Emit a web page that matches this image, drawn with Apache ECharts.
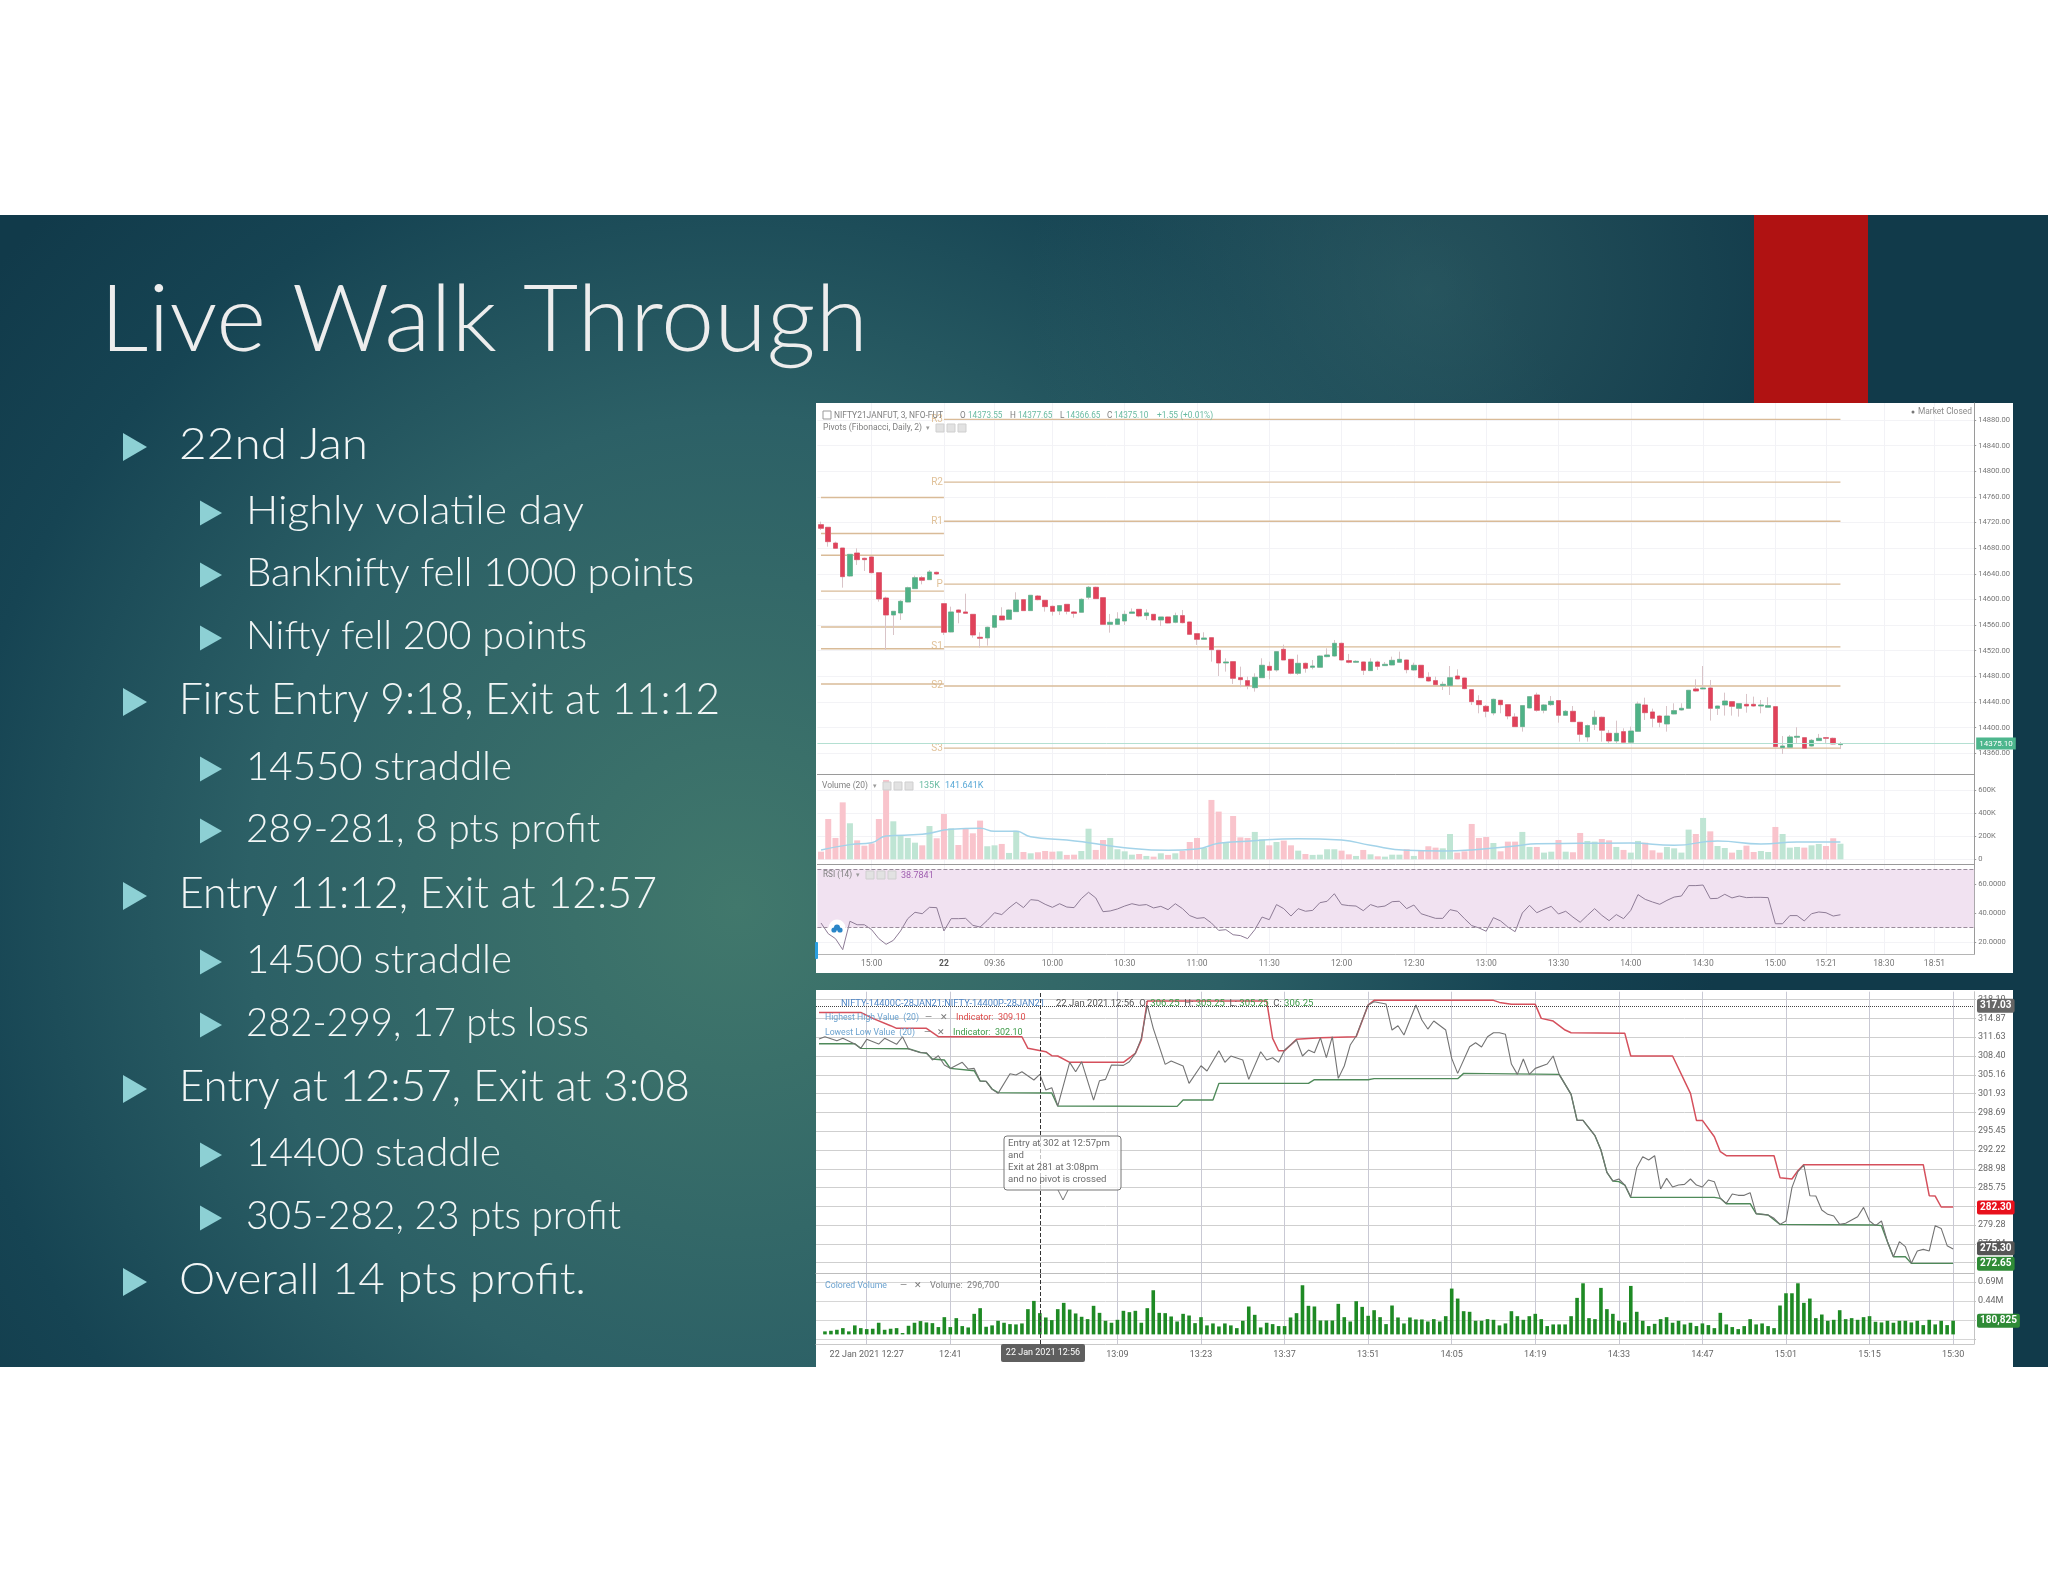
<!DOCTYPE html>
<html>
<head>
<meta charset="utf-8">
<title>Live Walk Through</title>
<style>html,body{margin:0;padding:0;background:#fff}#main{width:2048px;height:1582px}</style>
<script src="https://cdn.jsdelivr.net/npm/echarts@6/dist/echarts.min.js"></script>
</head>
<body>
<div id="main"></div>
<script>
// slide text
var slideTitle = "Live Walk Through";
var bulletText = ["22nd Jan", "Highly volatile day", "Banknifty fell 1000 points", "Nifty fell 200 points", "First Entry 9:18, Exit at 11:12", "14550 straddle", "289-281, 8 pts profit", "Entry 11:12, Exit at 12:57", "14500 straddle", "282-299, 17 pts loss", "Entry at 12:57, Exit at 3:08", "14400 staddle", "305-282, 23 pts profit", "Overall 14 pts profit."];
var bulletLevel = [1, 2, 2, 2, 1, 2, 2, 1, 2, 2, 1, 2, 2, 1];

// top screenshot: NIFTY 3 min candles
var candleO = [14716.7,14712.6,14688,14680.3,14636.6,14672.5,14664.2,14666.3,14641.8,14602.3,14575.8,14578.9,14596,14616.9,14634,14630.9,14642.4,14593.5,14549.3,14583.6,14580.5,14576.8,14541,14540,14556.6,14574.2,14569,14581,14599.7,14582.6,14605.4,14598.7,14589.3,14582,14592.4,14580.5,14580,14603.4,14619,14602.8,14561.2,14561.2,14566.4,14578.4,14584.6,14574.8,14576.8,14568,14572.7,14564.4,14574.8,14564.9,14546.7,14537.8,14540.4,14520.7,14500.9,14503,14478,14473.4,14462.4,14478,14495.7,14490,14522.2,14506.6,14484.8,14500.4,14494.2,14494.2,14510.8,14511.8,14531.6,14504.6,14502,14502.5,14489,14502.5,14496.8,14497.8,14502,14505.6,14490,14497.3,14478.6,14473.4,14465.6,14465.6,14480.6,14477.5,14459.3,14442.2,14433.3,14422.9,14442.7,14435.9,14416.7,14401.6,14430.7,14451,14427.1,14435.9,14442.2,14419.3,14425.5,14408.4,14385.5,14405.2,14416.2,14391.2,14379.2,14393.8,14377.2,14394.3,14435.4,14424.5,14418.2,14405.8,14421.4,14427.6,14430.2,14460.4,14460.4,14461.9,14430.2,14435.4,14440.6,14430.2,14436.4,14436.4,14433.8,14431.8,14432.8,14368.8,14369.4,14385,14384.4,14371.4,14379.8,14384.4,14383.4,14373.55];
var candleH = [14721.4,14712.6,14690.2,14680.3,14670.4,14679.8,14665.2,14667.3,14641.8,14604.4,14581.5,14599.2,14620,14637.2,14636.6,14646,14643.4,14593.5,14588.8,14584.6,14609,14576.8,14548.8,14557.6,14575.8,14587.8,14584.6,14611.2,14600.8,14606.5,14607,14599.2,14590.4,14591.4,14592.4,14582,14601.8,14621,14620,14602.8,14577.4,14580,14582.6,14586,14585,14584.6,14577.3,14572.7,14573.2,14579.4,14583.6,14565.4,14547.2,14548.8,14540.9,14521.2,14508.2,14503.5,14495.2,14479.6,14484.8,14508.2,14503,14519.6,14529.5,14507.1,14513.9,14501.4,14505.6,14512.8,14523.8,14536.8,14532.6,14515,14505,14503,14508.2,14504.6,14502.5,14510.8,14518.6,14506.1,14501.4,14497.8,14486.4,14479.6,14471.8,14496.2,14491,14478,14459.8,14450.5,14435.4,14445.2,14443.2,14436.4,14422.4,14434.9,14449.4,14454.6,14436.9,14449.4,14442.7,14427.6,14433.8,14408.9,14404.8,14426.6,14417.2,14396.4,14410.9,14399,14401.6,14440.6,14446.8,14429.7,14419.8,14433.8,14438,14438,14458.8,14475.4,14496.2,14474.4,14434.3,14454.6,14441.1,14438,14452.6,14448.4,14443.2,14447.4,14433.8,14387,14388.6,14400.6,14384.9,14382.3,14390.2,14384.9,14384.4,14377.65];
var candleL = [14708.4,14682.4,14678.8,14618.4,14635.6,14653.8,14644.4,14640.8,14596.6,14521.2,14544.6,14568,14595.6,14616.4,14623.6,14630.4,14638.2,14544.6,14548.8,14562.8,14578.4,14540.4,14524.8,14528,14555,14568,14568,14580.5,14582,14582,14598.7,14581,14574.8,14575.8,14576.8,14571.6,14579.5,14600.2,14601.3,14561.2,14548.2,14560.2,14560.2,14578.4,14572.2,14568,14567,14558.6,14562.8,14562.8,14562.8,14544.6,14529,14537.8,14503,14480.6,14487.4,14468.2,14463,14459.8,14456.2,14477.5,14475.4,14487.4,14505.6,14483.2,14482.2,14485.8,14491,14493.7,14509.8,14510.8,14504.6,14500.4,14501,14482.2,14488.5,14490,14496.3,14497.3,14501.5,14484.8,14489,14477.5,14471.8,14466.6,14458.8,14451,14475.5,14459.9,14435.4,14422.4,14416.2,14419.3,14422.4,14413,14401.1,14393.8,14430.2,14425,14422.4,14433.8,14407.8,14418.3,14408.9,14378.2,14378.2,14396.4,14378.2,14375.6,14375.6,14376.7,14375.6,14393.8,14412,14400.6,14400.6,14393.8,14420.9,14426.6,14429.7,14456.2,14459.9,14411,14419.8,14418.8,14418.8,14417.2,14423.4,14432.8,14422.4,14431.3,14369.9,14359,14368.9,14375.6,14367.3,14370.4,14379.3,14375.6,14374.1,14366.65];
var candleC = [14711,14690.2,14679.8,14635.6,14670.4,14662.1,14662.1,14641.8,14600.8,14575.8,14581.5,14597.1,14618.4,14634,14629.9,14642.9,14639.8,14548.8,14580.5,14580,14578.4,14544.6,14539.4,14556.6,14574.8,14568,14583.6,14599.2,14582.6,14606.5,14599.7,14588.8,14581.5,14590.4,14581.5,14578.4,14600.2,14619,14601.3,14561.2,14564.4,14569.6,14576.8,14580.5,14574.2,14579,14568,14572.7,14563.3,14574.8,14563.8,14545.6,14537.8,14539.9,14521.7,14500.9,14502.5,14477,14474.9,14465.6,14478.6,14497.3,14489.5,14518.6,14505.6,14484.8,14500.4,14492.6,14496.2,14511.8,14513.4,14531.6,14505.6,14502,14503.5,14489.5,14502.5,14495.7,14498.8,14505,14506.6,14490.5,14497.3,14478,14472.8,14467.1,14467.6,14478,14476,14460.9,14440.6,14435.9,14425.5,14444.2,14435.9,14418.2,14401.6,14434.4,14448.4,14427.1,14435.4,14441.1,14419.3,14425.5,14409.4,14389.6,14403.2,14416.2,14396,14379.2,14391.2,14377.2,14394.8,14437,14423.4,14414.6,14408.4,14418.2,14426.6,14430.2,14458.3,14457.2,14461.9,14430.2,14433.8,14441.6,14433.3,14437.5,14433.8,14433.8,14435.4,14434.4,14370.4,14371.4,14385.5,14386.5,14367.8,14380.3,14383.4,14383.4,14374.6,14375.1];
// volume in thousands
var volume = [66,349,185,493,312,164,118,138,349,687,329,202,185,144,121,288,182,392,268,124,268,225,335,113,121,133,55,248,63,52,61,72,66,69,38,40,72,265,81,167,185,87,69,40,46,29,23,52,38,52,72,150,185,98,514,413,144,375,190,185,237,173,121,150,162,121,75,46,38,40,87,87,75,43,29,81,43,26,23,40,40,87,29,72,113,101,95,219,58,69,306,185,193,141,69,153,153,237,107,107,58,66,167,66,61,228,159,153,176,164,107,81,58,159,144,78,58,107,95,58,257,219,358,242,115,98,58,81,118,63,72,63,280,219,101,107,101,121,133,115,182,135];
var volMaIdx = [0,4,7,9,14,18,22,24,27,29,34,37,42,48,52,55,59,66,72,76,81,86,90,96,99,105,112,118,124,130,135,141];
var volMaVal = [81,127,144,202,216,260,268,242,242,196,167,144,101,78,89,138,156,179,167,121,78,72,81,115,135,138,141,121,159,133,150,150];
var rsi = [33.1,25.7,22.3,14.7,34.3,31.9,31.9,28.5,22.3,18.4,21.1,27.6,36.1,40.5,39.5,43.9,43.7,27.6,36.1,36.1,36.3,31.5,30.3,34.9,40.2,38.9,43.5,47.4,43.7,49.2,48.7,46,43.9,46.4,44.1,43.7,49.9,54.3,50.4,40.9,41.4,42.8,44.8,46.4,45.3,45.8,43.5,44.6,42.3,46.4,43,38.2,36.3,36.8,33.1,28,28.5,25,24.4,22.3,28.5,37.2,35.4,45.8,43,37.9,43,41.2,41.8,47.1,48.1,53.3,45.8,45.1,44.8,41.6,45.8,44.1,44.8,47.8,48.1,43,45.5,39.5,37.9,36.3,36.3,42.3,41.2,36.1,31.3,29.7,27.4,36.8,34.5,30.3,27.1,40,45.3,40.2,42.5,44.6,39.3,41.2,37.2,33.6,38.4,43,38.4,34.7,38.9,36.1,41.8,52.7,49.4,47.6,46,48.7,51,51.7,58.9,58.9,59.3,49.9,50.1,52.9,50.4,51.7,50.6,50.8,50.8,50.6,32.6,32.6,38.2,38.2,34.5,39.5,40.7,40.2,37.9,38.8];
var pivotNames = ["R3", "R2", "R1", "P", "S1", "S2", "S3"];
var pivotLevels = [14881, 14783, 14722, 14624, 14526, 14465, 14368];
var prevPivotLevels = [14759, 14703, 14669, 14613, 14557, 14523, 14468];
var candleCount = 160;
var topTickIdx = [7, 17, 24, 32, 42, 52, 62, 72, 82, 92, 102, 112, 122, 132, 139, 147, 154];
var topTickLab = ["15:00", "22", "09:36", "10:00", "10:30", "11:00", "11:30", "12:00", "12:30", "13:00", "13:30", "14:00", "14:30", "15:00", "15:21", "18:30", "18:51"];
var priceTicks = [14880, 14840, 14800, 14760, 14720, 14680, 14640, 14600, 14560, 14520, 14480, 14440, 14400, 14360];
var volTicks = [600, 400, 200, 0];
var rsiTicks = [60, 40, 20];

// bottom screenshot: 14400 straddle 1 min
var closeIdx = [0,1,3,4,6,7,8,10,11,13,14,15,17,18,19,20,21,22,24,25,26,27,28,29,30,32,33,34,36,37,38,39,40,42,43,44,46,47,48,49,51,52,53,54,55,56,58,59,61,62,64,65,67,68,69,71,72,74,75,76,77,78,80,81,82,83,84,85,86,87,88,89,90,92,93,95,96,97,98,100,101,102,103,105,106,107,109,110,111,112,113,114,115,116,117,118,119,120,122,123,124,126,127,128,130,131,132,133,134,135,136,137,138,139,140,141,142,143,144,145,146,147,148,149,150,151,152,153,154,155,156,157,158,159,160,161,162,163,164,165,166,167,168,169,170,171,172,174,175,176,177,178,179,180,181,182,183,184,185,186,187,188,189,190];
var closeVal = [311.31,311.71,311.03,311.43,310.45,309.71,311.26,310.45,311.43,310.40,311.71,309.59,308.96,308.96,307.70,308.44,306.84,306.26,307.30,306.15,306.26,304.08,304.03,302.65,301.96,305.35,305.12,305.69,304.26,305.23,302.54,302.94,299.78,307.30,305.69,307.41,300.81,304.14,304.37,306.84,306.78,307.41,308.85,311.43,317.16,313.15,306.95,307.53,306.67,303.68,306.72,305.81,309.30,307.30,308.39,307.70,304.37,309.13,307.70,308.10,307.30,309.42,311.14,308.39,309.42,308.96,311.54,308.10,311.71,304.54,306.67,310.28,311.83,317.16,317.74,317.34,312.86,313.61,312.00,317.16,314.58,313.03,314.41,312.86,307.99,305.40,309.99,310.68,309.93,311.71,312.40,312.40,312.12,307.01,305.23,307.87,305.23,306.26,307.01,308.39,305.23,301.79,297.31,297.31,294.68,292.21,288.36,286.87,287.22,286.18,284.12,289.17,291.06,290.49,291.23,285.50,287.33,285.84,286.18,286.30,287.22,286.18,285.84,287.05,286.76,283.89,283.03,284.64,284.41,284.41,284.87,281.25,281.14,281.02,280.45,279.41,279.99,285.73,288.48,289.63,284.35,284.29,281.88,281.14,280.85,279.41,279.59,280.73,282.34,279.99,279.19,279.99,276.43,273.85,276.43,275.57,272.70,274.83,275.11,274.83,279.19,278.72,275.74,275.17];
var highIdx = [0,7,9,12,13,18,20,34,35,38,39,40,42,51,53,54,55,75,76,77,78,80,84,90,92,93,113,114,116,120,121,123,125,126,135,136,143,146,147,148,150,151,152,160,161,163,164,165,185,186,187,188,190];
var highVal = [315.90,315.90,314.87,313.61,313.15,313.15,311.71,311.71,309.71,309.13,308.44,308.39,307.30,307.30,308.85,311.14,317.85,317.85,311.43,309.30,309.30,311.26,311.54,311.71,317.16,317.97,317.97,317.62,317.28,317.28,314.87,314.41,312.86,312.40,312.29,308.39,308.39,301.96,297.31,297.31,294.50,291.92,291.23,291.23,287.45,287.22,288.65,289.69,289.69,284.35,284.29,282.40,282.40];
var lowIdx = [0,6,7,15,17,18,19,21,22,26,27,28,29,30,39,40,60,61,66,67,82,83,92,93,107,108,124,126,127,128,130,131,132,133,134,135,136,150,151,152,156,157,159,161,177,178,179,180,182,183,190];
var lowVal = [310.51,310.51,309.71,309.65,309.02,308.85,307.87,307.70,306.26,305.86,304.08,304.03,302.71,302.08,302.02,299.78,299.72,300.81,300.81,303.68,303.68,304.31,304.31,304.49,304.49,305.40,305.23,301.79,297.31,297.31,294.68,292.21,288.36,286.87,286.76,286.18,284.06,284.06,283.89,282.97,282.97,281.25,281.02,279.41,279.30,279.19,276.43,273.85,273.85,272.70,272.70];
// colored volume in thousands, index 0 has no bar
var coloredVolume = [null,40,48,61,83,40,119,83,70,75,154,61,75,83,18,114,154,176,158,149,97,228,97,215,110,92,272,347,101,119,180,154,136,132,145,334,443,281,224,189,334,417,329,277,233,202,378,285,180,154,193,312,294,312,154,347,584,285,281,237,171,272,250,149,228,119,145,105,145,119,83,180,369,259,92,154,136,110,110,224,281,650,378,369,184,184,184,404,228,171,439,364,246,320,228,136,382,224,145,224,198,198,171,202,171,241,606,474,307,299,180,180,202,193,119,145,307,241,193,241,272,202,110,132,132,132,241,483,676,215,202,615,334,272,180,158,641,299,180,110,140,202,228,154,180,132,154,110,145,123,83,285,132,97,70,110,202,132,145,110,83,382,544,544,676,417,474,215,263,180,193,320,202,215,193,228,241,167,158,180,154,180,180,158,180,123,193,132,180,123,181];
var straddleCount = 194;
var bottomTickIdx = [8, 22, 50, 64, 78, 92, 106, 120, 134, 148, 162, 176, 190];
var bottomTickLab = ["22 Jan 2021 12:27", "12:41", "13:09", "13:23", "13:37", "13:51", "14:05", "14:19", "14:33", "14:47", "15:01", "15:15", "15:30"];
var crossIdx = 37;
var straddleTicks = [318.10, 314.87, 311.63, 308.40, 305.16, 301.93, 298.69, 295.45, 292.22, 288.98, 285.75, 282.52, 279.28, 276.04, 272.81];
var cVolLabelTicks = [690, 440];
var cVolGridTicks = [690, 440, 190, -60];

var chart = echarts.init(document.getElementById("main"), null, { renderer: "canvas" });
var UI = "Roboto, sans-serif";
var SLIDE = "Lato, sans-serif";

function blankCats(n, idx, lab) {
	var c = [], k;
	for (k = 0; k < n; k++) c.push("");
	for (k = 0; k < idx.length; k++) c[idx[k]] = lab[k];
	return c;
}
function pairs(idx, val) {
	return idx.map(function (x, k) { return [x, val[k]]; });
}
function xAxisFor(grid, cats, ticks, labels, lineColor, gridColor, margin, size, labelColor) {
	var at = function (k) { return ticks.indexOf(k) >= 0; };
	return {
		type: "category", gridIndex: grid, data: cats, boundaryGap: true,
		axisLine: { show: true, onZero: false, lineStyle: { color: lineColor, width: 1 } },
		axisTick: { show: false, interval: at, alignWithLabel: true },
		splitLine: { show: true, interval: at, alignWithLabel: true, lineStyle: { color: gridColor, width: 1 } },
		axisLabel: {
			show: labels, interval: at, margin: margin, fontSize: size, fontFamily: UI, color: labelColor,
			hideOverlap: false,
			formatter: function (v) { return v === "22" ? "{b|22}" : v; },
			rich: { b: { fontWeight: "bold", fontSize: size, color: "#555" } }
		}
	};
}
function yAxisFor(grid, min, max, gridTicks, labelTicks, fmt, lineColor, gridColor, size, labelColor) {
	return {
		type: "value", gridIndex: grid, position: "right", min: min, max: max, scale: true,
		axisLine: { show: true, lineStyle: { color: lineColor, width: 1 } },
		axisTick: { show: true, length: 2, customValues: gridTicks, lineStyle: { color: lineColor } },
		splitLine: { show: true, lineStyle: { color: gridColor, width: 1 } },
		axisLabel: { show: true, customValues: labelTicks, margin: 4, fontSize: size, fontFamily: UI, color: labelColor, formatter: fmt }
	};
}
function tag(v, text, bg) {
	return {
		yAxis: v,
		lineStyle: { color: "transparent", width: 0 },
		label: {
			show: true, position: "end", distance: 3, formatter: text, color: "#fff", backgroundColor: bg,
			padding: [2, 3], borderRadius: 2, fontSize: 10, fontWeight: "bold", fontFamily: UI
		}
	};
}

// pivots: one line per level, previous day then today
var series = [];
pivotLevels.forEach(function (v) {
	series.push({
		type: "line", xAxisIndex: 0, yAxisIndex: 0, showSymbol: false, silent: true,
		lineStyle: { color: "#d9bb98", width: 1.4 },
		data: [[17, v], [141, v]], z: 1
	});
});
prevPivotLevels.forEach(function (v) {
	series.push({
		type: "line", xAxisIndex: 0, yAxisIndex: 0, showSymbol: false, silent: true,
		lineStyle: { color: "#d9bb98", width: 1.4 },
		data: [[0, v], [17, v]], z: 1
	});
});
series.push({
	type: "scatter", xAxisIndex: 0, yAxisIndex: 0, symbolSize: 0, silent: true,
	data: pivotLevels.map(function (v, k) { return { value: [17, v], name: pivotNames[k] }; }),
	label: { show: true, position: "left", distance: 1, formatter: "{b}", color: "#d8b27e", fontSize: 10, fontFamily: UI },
	z: 3
});

// wicks first, bodies on top
series.push({
	type: "candlestick", xAxisIndex: 0, yAxisIndex: 0, barWidth: 5, silent: true,
	itemStyle: { color: "#d9c4c8", color0: "#d9c4c8", borderColor: "#d9c4c8", borderColor0: "#d9c4c8", borderWidth: 1 },
	data: candleO.map(function (o, k) { return [o, candleC[k], candleL[k], candleH[k]]; }),
	markLine: {
		silent: true, symbol: "none", animation: false,
		lineStyle: { color: "#b4e0d2", width: 1, type: "solid" },
		data: [{
			yAxis: 14375.1,
			label: { show: true, position: "end", distance: 2, formatter: "14375.10", color: "#fff", backgroundColor: "#4db68d", padding: [2, 3], fontSize: 8, fontFamily: UI }
		}]
	},
	z: 2
});
series.push({
	type: "candlestick", xAxisIndex: 0, yAxisIndex: 0, barWidth: 5, silent: true,
	itemStyle: { color: "#4fb287", color0: "#e0425a", borderColor: "#4fb287", borderColor0: "#e0425a", borderWidth: 0.5 },
	data: candleO.map(function (o, k) { return [o, candleC[k], Math.min(o, candleC[k]), Math.max(o, candleC[k])]; }),
	z: 3
});
series.push({
	type: "bar", xAxisIndex: 1, yAxisIndex: 1, barWidth: 6, silent: true,
	data: volume.map(function (v, k) {
		return { value: v, itemStyle: { color: candleC[k] >= candleO[k] ? "#bfe5d4" : "#f9c4cc" } };
	})
});
series.push({
	type: "line", xAxisIndex: 1, yAxisIndex: 1, showSymbol: false, silent: true, smooth: true,
	lineStyle: { color: "#a3d3e9", width: 1.5 }, data: pairs(volMaIdx, volMaVal), z: 3
});
series.push({
	type: "line", xAxisIndex: 2, yAxisIndex: 2, showSymbol: false, silent: true,
	lineStyle: { color: "#8e7c96", width: 1 }, data: rsi,
	markArea: { silent: true, itemStyle: { color: "#f1e2f1" }, data: [[{ yAxis: 30 }, { yAxis: 70 }]] },
	markLine: {
		silent: true, symbol: "none", animation: false, label: { show: false },
		lineStyle: { color: "#9a8c9c", type: "dashed", width: 1 },
		data: [{ yAxis: 70 }, { yAxis: 30 }]
	}
});

// bottom chart lines
series.push({
	type: "line", xAxisIndex: 3, yAxisIndex: 3, showSymbol: false, silent: true,
	lineStyle: { color: "#4f8a5a", width: 1.4 }, data: pairs(lowIdx, lowVal), z: 3,
	markLine: { silent: true, symbol: "none", animation: false, data: [tag(272.65, "272.65", "#2f8b36")] }
});
series.push({
	type: "line", xAxisIndex: 3, yAxisIndex: 3, showSymbol: false, silent: true,
	lineStyle: { color: "#d5505c", width: 1.5 }, data: pairs(highIdx, highVal), z: 3,
	markLine: { silent: true, symbol: "none", animation: false, data: [tag(282.3, "282.30", "#e8101c")] }
});
series.push({
	type: "line", xAxisIndex: 3, yAxisIndex: 3, showSymbol: false, silent: true,
	lineStyle: { color: "#737373", width: 1.1 }, data: pairs(closeIdx, closeVal), z: 4,
	markLine: {
		silent: true, symbol: "none", animation: false,
		data: [
			tag(275.3, "275.30", "#555"),
			{
				yAxis: 317.03,
				lineStyle: { color: "#444", type: "dotted", width: 1 },
				label: { show: true, position: "end", distance: 3, formatter: "317.03", color: "#fff", backgroundColor: "#666", padding: [2, 3], borderRadius: 2, fontSize: 10, fontWeight: "bold", fontFamily: UI }
			},
			{
				xAxis: crossIdx,
				lineStyle: { color: "#333", type: "dashed", width: 1 },
				label: { show: false }
			}
		]
	}
});
series.push({
	type: "bar", xAxisIndex: 4, yAxisIndex: 4, barWidth: 3.6, silent: true,
	itemStyle: { color: "#1e8a24" }, data: coloredVolume,
	markLine: {
		silent: true, symbol: "none", animation: false,
		data: [
			tag(181, "180,825", "#2f8b36"),
			{ xAxis: crossIdx, lineStyle: { color: "#333", type: "dashed", width: 1 }, label: { show: false } }
		]
	}
});

// slide furniture
var bg = [];
bg.push({
	type: "rect", z: -10, shape: { x: 0, y: 215, width: 2048, height: 1152 },
	style: {
		fill: {
			type: "radial", x: 0.36, y: 0.6, r: 0.85,
			colorStops: [{ offset: 0, color: "#41786c" }, { offset: 0.5, color: "#2c6066" }, { offset: 0.8, color: "#164453" }, { offset: 1, color: "#113a4a" }]
		}
	}
});
bg.push({
	type: "rect", z: -9.5, shape: { x: 900, y: 215, width: 1148, height: 500 },
	style: {
		fill: {
			type: "radial", x: 0.46, y: 0.15, r: 0.8,
			colorStops: [{ offset: 0, color: "rgba(70,120,120,0.4)" }, { offset: 1, color: "rgba(70,120,120,0)" }]
		}
	}
});
bg.push({ type: "rect", z: -9, shape: { x: 1754, y: 215, width: 114, height: 188 }, style: { fill: "#b01212" } });
bg.push({ type: "rect", z: -8, shape: { x: 816, y: 403, width: 1197, height: 570 }, style: { fill: "#ffffff" } });
bg.push({ type: "rect", z: -8, shape: { x: 816, y: 990, width: 1197, height: 377 }, style: { fill: "#ffffff" } });

function txt(x, y, s, size, color, extra) {
	var st = { text: s, fill: color, fontSize: size, fontFamily: UI, textVerticalAlign: "middle" };
	for (var k in (extra || {})) st[k] = extra[k];
	return { type: "text", z: 100, x: x, y: y, silent: true, style: st };
}
function arrow(x, y, w, h) {
	return {
		type: "polygon", z: 100, silent: true,
		shape: { points: [[x, y - h / 2], [x + w, y], [x, y + h / 2]] },
		style: { fill: "#8dd0d4" }
	};
}
function boxes(x, y) {
	var out = [];
	for (var k = 0; k < 3; k++) {
		out.push({ type: "rect", z: 100, silent: true, shape: { x: x + k * 11, y: y, width: 8, height: 8 }, style: { fill: "#e2e2e2", stroke: "#cfcfcf", lineWidth: 1 } });
	}
	return out;
}
// squeeze text to the width it has in the picture, the installed fonts run differently
var measure = document.createElement("canvas").getContext("2d");
function fitted(x, y, s, size, width, color) {
	measure.font = "300 " + size + "px Lato, sans-serif";
	var el = txt(x, y, s, size, color, { fontFamily: SLIDE, fontWeight: 300 });
	el.scaleX = width / measure.measureText(s).width;
	return el;
}
function uiFit(x, y, s, size, width, color) {
	measure.font = size + "px Roboto, sans-serif";
	var el = txt(x, y, s, size, color);
	el.scaleX = width / measure.measureText(s).width;
	return el;
}

var over = [];
over.push(fitted(100, 321, slideTitle, 92, 768, "#ededed"));
var bulletBase = [459, 524, 586, 649, 714, 780, 842, 908, 973, 1036, 1101, 1166, 1229, 1294];
var bulletWidth = [189, 338, 448, 341, 541, 266, 354, 478, 266, 343, 511, 255, 375, 407];
bulletText.forEach(function (t, k) {
	var lvl = bulletLevel[k], b = bulletBase[k], fs = lvl === 1 ? 43 : 39;
	over.push(arrow(lvl === 1 ? 123 : 200, b - (lvl === 1 ? 12 : 11), lvl === 1 ? 24 : 22, lvl === 1 ? 28 : 25));
	over.push(fitted(lvl === 1 ? 179 : 246, b - fs * 0.33, t, fs, bulletWidth[k], "#f2f6f6"));
});

// top screenshot header
over.push({ type: "rect", z: 100, silent: true, shape: { x: 823, y: 411, width: 8, height: 8 }, style: { fill: "#fff", stroke: "#999", lineWidth: 1 } });
over.push(uiFit(834, 416, "NIFTY21JANFUT, 3, NFO-FUT", 9.5, 109, "#808080"));
["O", "H", "L", "C"].forEach(function (n, k) {
	var vals = ["14373.55", "14377.65", "14366.65", "14375.10"];
	over.push(txt([960, 1010, 1060, 1107][k], 416, n, 8.2, "#808080"));
	over.push(txt([968, 1018, 1066, 1114][k], 416, vals[k], 8.2, "#69bba2"));
});
over.push(txt(1157, 416, "+1.55 (+0.01%)", 8.4, "#69bba2"));
over.push(uiFit(823, 428, "Pivots (Fibonacci, Daily, 2)", 9.4, 99, "#808080"));
over.push(txt(926, 428, "\u25BE", 7, "#999"));
over = over.concat(boxes(936, 424));
over.push(txt(1918, 412, "Market Closed", 8.4, "#8a8a8a"));
over.push({ type: "circle", z: 100, silent: true, shape: { cx: 1913, cy: 412, r: 1.5 }, style: { fill: "#777" } });
over.push(uiFit(822, 786, "Volume (20)", 9.5, 46, "#808080"));
over.push(txt(873, 786, "\u25BE", 7, "#999"));
over = over.concat(boxes(883, 782));
over.push(txt(919, 786, "135K", 9, "#69bba2"));
over.push(txt(945, 786, "141.641K", 9, "#5aa9d6"));
over.push(uiFit(823, 875, "RSI (14)", 9.5, 29, "#808080"));
over.push(txt(856, 875, "\u25BE", 7, "#999"));
over = over.concat(boxes(866, 871));
over.push(txt(901, 876, "38.7841", 9, "#a05fb0"));
over.push({ type: "circle", z: 100, silent: true, shape: { cx: 837, cy: 928, r: 8.5 }, style: { fill: "#ffffff" } });
over.push({ type: "circle", z: 101, silent: true, shape: { cx: 834, cy: 930, r: 2.6 }, style: { fill: "#2a86c8" } });
over.push({ type: "circle", z: 101, silent: true, shape: { cx: 837, cy: 927.5, r: 3 }, style: { fill: "#2a86c8" } });
over.push({ type: "circle", z: 101, silent: true, shape: { cx: 840, cy: 930, r: 2.6 }, style: { fill: "#2a86c8" } });
over.push({ type: "rect", z: 100, silent: true, shape: { x: 815, y: 942, width: 3, height: 17, r: 1 }, style: { fill: "#2a9fe0" } });

// bottom screenshot header
over.push(uiFit(841, 1004, "NIFTY-14400C-28JAN21:NIFTY-14400P-28JAN21", 9.7, 204, "#4f86c6"));
over.push(txt(1056, 1004, "22 Jan 2021 12:56  O: {v|306.25}  H: {v|305.25}  L: {v|305.25}  C: {v|306.25}", 9.5, "#555", {
	rich: { v: { fill: "#3e9a48", fontSize: 9.5, fontFamily: UI } }
}));
over.push(uiFit(825, 1018, "Highest High Value  (20)", 9, 94, "#6ba2cf"));
over.push(txt(925, 1018, "\u2014", 9, "#777"));
over.push(txt(940, 1018, "\u2715", 9, "#777"));
over.push(txt(956, 1018, "Indicator:  309.10", 9, "#dd4b4b"));
over.push(uiFit(825, 1033, "Lowest Low Value  (20)", 9, 90, "#6ba2cf"));
over.push(txt(924, 1033, "\u2014", 9, "#777"));
over.push(txt(937, 1033, "\u2715", 9, "#777"));
over.push(txt(953, 1033, "Indicator:  302.10", 9, "#3e9a48"));
over.push(uiFit(825, 1286, "Colored Volume", 9, 62, "#6ba2cf"));
over.push(txt(900, 1286, "\u2014", 9, "#777"));
over.push(txt(914, 1286, "\u2715", 9, "#777"));
over.push(txt(930, 1286, "Volume:  296,700", 9, "#808080"));

// callout
over.push({ type: "rect", z: 100, silent: true, shape: { x: 1004, y: 1136, width: 117, height: 54, r: 3 }, style: { fill: "rgba(255,255,255,0.7)", stroke: "#777", lineWidth: 1 } });
over.push({ type: "polyline", z: 100, silent: true, shape: { points: [[1058, 1190], [1063, 1200], [1068, 1190]] }, style: { fill: "none", stroke: "#777", lineWidth: 1 } });
["Entry at 302 at 12:57pm", "and", "Exit at 281 at 3:08pm", "and no pivot is crossed"].forEach(function (t, k) {
	over.push(txt(1008, 1144 + k * 11.7, t, 9.6, "#6b6b6b"));
});
over.push({ type: "rect", z: 100, silent: true, shape: { x: 1001, y: 1344, width: 84, height: 18, r: 2 }, style: { fill: "#5f5f5f" } });
over.push(txt(1043, 1353, "22 Jan 2021 12:56", 9, "#ffffff", { textAlign: "center" }));

var option = {
	animation: false,
	backgroundColor: "#ffffff",
	grid: [
		{ left: 817.4, top: 403, width: 1156.8, height: 371 },
		{ left: 817.4, top: 774.3, width: 1156.8, height: 90 },
		{ left: 817.4, top: 864.3, width: 1156.8, height: 90 },
		{ left: 816, top: 991.7, width: 1158, height: 281.3 },
		{ left: 816, top: 1273, width: 1158, height: 71 }
	],
	xAxis: [
		xAxisFor(0, blankCats(candleCount, topTickIdx, topTickLab), topTickIdx, false, "#9a9a9a", "#f2f2f6", 5, 8.5, "#777"),
		xAxisFor(1, blankCats(candleCount, topTickIdx, topTickLab), topTickIdx, false, "#9a9a9a", "#f2f2f6", 5, 8.5, "#777"),
		xAxisFor(2, blankCats(candleCount, topTickIdx, topTickLab), topTickIdx, true, "#b5b5b5", "#f2f2f6", 5, 8.5, "#777"),
		xAxisFor(3, blankCats(straddleCount, bottomTickIdx, bottomTickLab), bottomTickIdx, false, "#bdbdbd", "#c9c9d4", 6, 9, "#666"),
		xAxisFor(4, blankCats(straddleCount, bottomTickIdx, bottomTickLab), bottomTickIdx, true, "#c9c9c9", "#c9c9d4", 6, 9, "#666")
	],
	yAxis: [
		yAxisFor(0, 14327.7, 14906.5, priceTicks, priceTicks, function (v) { return v.toFixed(2); }, "#9a9a9a", "#f3f3f6", 7.6, "#777"),
		yAxisFor(1, -43.3, 736, volTicks, volTicks, function (v) { return v === 0 ? "0" : v + "K"; }, "#9a9a9a", "#f3f3f6", 7.6, "#777"),
		yAxisFor(2, 11.5, 73.6, rsiTicks, rsiTicks, function (v) { return v.toFixed(4); }, "#9a9a9a", "#f3f3f6", 7.6, "#777"),
		yAxisFor(3, 271.04, 319.46, straddleTicks, straddleTicks, function (v) { return v.toFixed(2); }, "#c4c4c4", "#cfcfcf", 9, "#666"),
		yAxisFor(4, -127, 812, cVolGridTicks, cVolLabelTicks, function (v) { return (v / 1000).toFixed(2) + "M"; }, "#c4c4c4", "#d6d6d6", 9, "#666")
	],
	graphic: { elements: bg.concat(over) },
	series: series
};
chart.setOption(option);
</script>
</body>
</html>
